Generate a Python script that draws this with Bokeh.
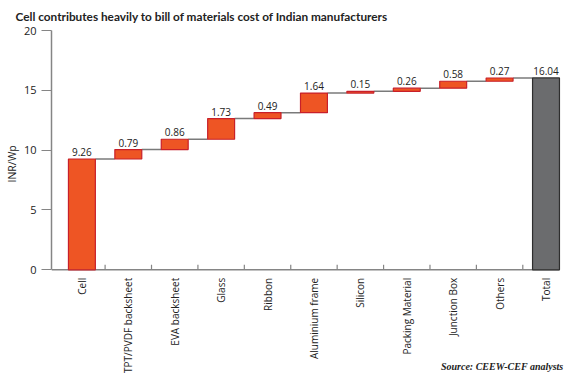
import math
from bokeh.plotting import figure
from bokeh.models import FixedTicker, ColumnDataSource, Range1d, Title
from bokeh.core.properties import value
from bokeh.embed import file_html
from bokeh.resources import INLINE

categories = ["Cell", "TPT/PVDF backsheet", "EVA backsheet", "Glass", "Ribbon",
              "Aluminium frame", "Silicon", "Packing Material", "Junction Box",
              "Others", "Total"]
values = [9.26, 0.79, 0.86, 1.73, 0.49, 1.64, 0.15, 0.26, 0.58, 0.27, 16.04]
value_labels = ["9.26", "0.79", "0.86", "1.73", "0.49", "1.64", "0.15", "0.26",
                "0.58", "0.27", "16.04"]
y_ticks = [0, 5, 10, 15, 20]
title_text = "Cell contributes heavily to bill of materials cost of Indian manufacturers"
source_text = "Source: CEEW-CEF analysts"
y_label = "INR/Wp"

n = len(categories)
xs = list(range(n))
bottoms, tops = [], []
cum = 0.0
for i, v in enumerate(values):
    if i == n - 1:
        bottoms.append(0.0)
        tops.append(v)
    else:
        bottoms.append(cum)
        cum += v
        tops.append(cum)

ORANGE = "#EE5524"
ORANGE_LINE = "#C8202A"
GREY = "#6B6C6E"
GREY_LINE = "#2E2E2E"
AXIS = "#858585"
TEXT = "#222222"
fills = [ORANGE] * (n - 1) + [GREY]
lines = [ORANGE_LINE] * (n - 1) + [GREY_LINE]

src = ColumnDataSource(dict(x=xs, bottom=bottoms, top=tops, fill=fills, line=lines,
                            lab=value_labels, cat=categories, zero=[0] * n))

X0, X1 = -0.655, 10.42
Y0, Y1 = -9.0, 20
p = figure(width=565, height=377, output_backend="svg", toolbar_location=None,
           x_range=Range1d(X0, X1), y_range=Range1d(Y0, Y1),
           min_border_left=4, min_border_right=0, min_border_top=4,
           min_border_bottom=0)
p.outline_line_color = None
p.grid.visible = False
p.xaxis.visible = False

# x axis line at zero, ending at the Total bar
p.segment(x0=[X0], y0=[0], x1=[xs[-1] + 0.29], y1=[0], line_color=AXIS, line_width=1.5)

# category boundary ticks (pointing up)
bounds_x = [i + 0.5 for i in range(n - 1)]
tick_len = 0.42
p.segment(x0=bounds_x, y0=[0] * len(bounds_x), x1=bounds_x,
          y1=[tick_len] * len(bounds_x), line_color=AXIS, line_width=1.2)

# connectors
w = 0.58
cx0, cx1, cy = [], [], []
for i in range(n - 1):
    cx0.append(xs[i] + w / 2)
    cx1.append(xs[i + 1] - w / 2)
    cy.append(tops[i])
p.segment(x0=cx0, y0=cy, x1=cx1, y1=cy, line_color="#7A7A7A", line_width=1.5)

p.vbar(x="x", bottom="bottom", top="top", width=w, fill_color="fill",
       line_color="line", line_width=1.2, source=src)

# value labels
p.text(x="x", y="top", text="lab", source=src, text_align="center",
       text_baseline="bottom", y_offset=-3, text_font=value("Open Sans"),
       text_font_size="10px", text_color=TEXT)

# category labels (vertical)
p.text(x="x", y="zero", text="cat", source=src, angle=math.pi / 2,
       text_align="right", text_baseline="middle", y_offset=8,
       text_font=value("Open Sans"), text_font_size="10px", text_color=TEXT)

# source note
p.text(x=[10.375], y=[-8.1], text=[source_text], text_align="right",
       text_baseline="alphabetic", text_font=value("Liberation Serif"),
       text_font_style="bold italic", text_font_size="10px", text_color=TEXT)

ay = p.yaxis[0]
ay.bounds = (0, 20)
ay.ticker = FixedTicker(ticks=y_ticks)
ay.major_label_text_font = "Open Sans"
ay.major_label_text_font_size = "11px"
ay.major_label_text_color = TEXT
ay.major_tick_in = 0
ay.major_tick_out = 10
ay.major_tick_line_color = AXIS
ay.major_tick_line_width = 1.2
ay.minor_tick_line_color = None
ay.axis_line_color = AXIS
ay.axis_line_width = 1.5
ay.major_label_standoff = 5

p.add_layout(Title(text=y_label, text_font="Open Sans", text_font_size="10.5px",
                   text_font_style="normal", text_color=TEXT, align="left",
                   offset=195, standoff=4), "left")

p.title = Title(text=title_text, text_font="Lato", text_font_size="11.8px",
                text_font_style="bold", text_color=TEXT, align="left", offset=-36)
p.title.standoff = 13

open("out.html", "w").write(file_html(p, INLINE))
